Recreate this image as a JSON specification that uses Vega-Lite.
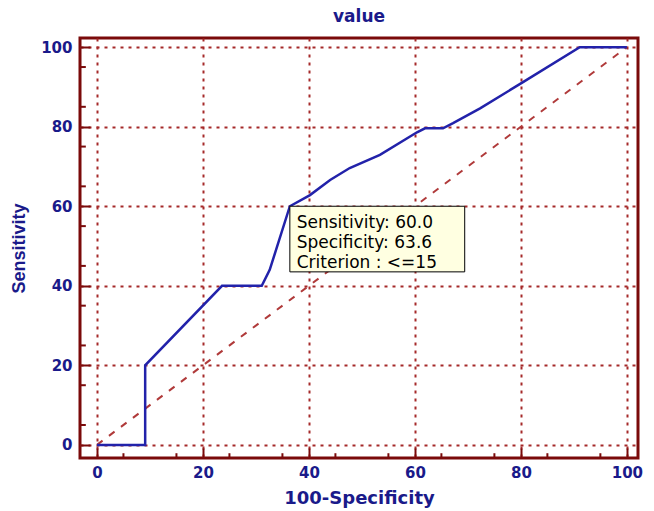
{
  "$schema": "https://vega.github.io/schema/vega-lite/v6.json",
  "width": 558,
  "height": 420,
  "autosize": {"type": "none"},
  "padding": {"left": 80, "top": 38, "right": 16, "bottom": 53},
  "background": "white",
  "title": {"text": "value", "font": "DejaVu Sans", "fontSize": 17, "fontWeight": "bold", "color": "#1a1a8a", "offset": 12},
  "config": {
    "view": {"stroke": "#7a0a0a", "strokeWidth": 3},
    "axis": {
      "labelFont": "DejaVu Sans", "labelFontSize": 15, "labelFontWeight": "bold", "labelColor": "#1a1a8a",
      "titleFont": "DejaVu Sans", "titleFontSize": 18, "titleFontWeight": "bold", "titleColor": "#1a1a8a",
      "domain": false, "tickColor": "#7a0a0a", "tickWidth": 2, "tickSize": -10,
      "grid": true, "gridColor": "#a52a2a", "gridDash": [3, 5], "gridWidth": 2, "gridOpacity": 1
    }
  },
  "layer": [
    {
      "data": {"values": [{"x": 0, "y": 0}, {"x": 100, "y": 100}]},
      "mark": {"type": "line", "color": "#b03a3a", "strokeDash": [7, 8], "strokeWidth": 2},
      "encoding": {
        "x": {"field": "x", "type": "quantitative", "scale": {"domain": [-3.2, 102.1], "nice": false, "zero": false},
              "axis": {"title": "100-Specificity", "values": [0, 20, 40, 60, 80, 100], "labelPadding": 17, "titlePadding": 9}},
        "y": {"field": "y", "type": "quantitative", "scale": {"domain": [-3.3, 102.3], "nice": false, "zero": false},
              "axis": {"title": "Sensitivity", "values": [0, 20, 40, 60, 80, 100], "labelPadding": 18, "titlePadding": 12, "titleFont": "Liberation Sans", "titleFontSize": 18}}
      }
    },
    {
      "data": {"values": [
        {"i": 1, "x": 0, "y": 0}, {"i": 2, "x": 9.1, "y": 0}, {"i": 3, "x": 9.1, "y": 20},
        {"i": 4, "x": 23.6, "y": 40}, {"i": 5, "x": 31.1, "y": 40}, {"i": 6, "x": 32.6, "y": 44},
        {"i": 7, "x": 36.4, "y": 60}, {"i": 8, "x": 40.2, "y": 62.8}, {"i": 9, "x": 44, "y": 66.6},
        {"i": 10, "x": 47.7, "y": 69.6}, {"i": 11, "x": 53.4, "y": 72.9}, {"i": 12, "x": 60.4, "y": 78.6},
        {"i": 13, "x": 61.9, "y": 79.6}, {"i": 14, "x": 65.3, "y": 79.6}, {"i": 15, "x": 67.2, "y": 80.9},
        {"i": 16, "x": 72.3, "y": 84.6}, {"i": 17, "x": 80.4, "y": 91.2}, {"i": 18, "x": 91.1, "y": 100},
        {"i": 19, "x": 100, "y": 100}
      ]},
      "mark": {"type": "line", "color": "#2222aa", "strokeWidth": 2.5},
      "encoding": {
        "x": {"field": "x", "type": "quantitative"},
        "y": {"field": "y", "type": "quantitative"},
        "order": {"field": "i", "type": "quantitative"}
      }
    },
    {
      "data": {"values": [{"x": 5}, {"x": 15}, {"x": 25}, {"x": 35}, {"x": 45}, {"x": 55}, {"x": 65}, {"x": 75}, {"x": 85}, {"x": 95}]},
      "mark": {"type": "rule", "color": "#7a0a0a", "strokeWidth": 2},
      "encoding": {
        "x": {"field": "x", "type": "quantitative"},
        "y": {"datum": -3.3},
        "y2": {"datum": -2.1}
      }
    },
    {
      "data": {"values": [{"y": 5}, {"y": 15}, {"y": 25}, {"y": 35}, {"y": 45}, {"y": 55}, {"y": 65}, {"y": 75}, {"y": 85}, {"y": 95}]},
      "mark": {"type": "rule", "color": "#7a0a0a", "strokeWidth": 2},
      "encoding": {
        "y": {"field": "y", "type": "quantitative"},
        "x": {"datum": -3.2},
        "x2": {"datum": -2.1}
      }
    },
    {
      "data": {"values": [{"x": 36.4, "x2": 69.4, "y": 60, "y2": 43.5}]},
      "mark": {"type": "rect", "fill": "#ffffe1", "stroke": "black", "strokeWidth": 1},
      "encoding": {
        "x": {"field": "x", "type": "quantitative"},
        "x2": {"field": "x2"},
        "y": {"field": "y", "type": "quantitative"},
        "y2": {"field": "y2"}
      }
    },
    {
      "data": {"values": [
        {"x": 37.7, "y": 55.9, "label": "Sensitivity: 60.0"},
        {"x": 37.7, "y": 50.8, "label": "Specificity: 63.6"},
        {"x": 37.7, "y": 45.7, "label": "Criterion : <=15"}
      ]},
      "mark": {"type": "text", "align": "left", "baseline": "middle", "font": "DejaVu Sans", "fontSize": 17, "color": "black"},
      "encoding": {
        "x": {"field": "x", "type": "quantitative"},
        "y": {"field": "y", "type": "quantitative"},
        "text": {"field": "label"}
      }
    }
  ]
}
